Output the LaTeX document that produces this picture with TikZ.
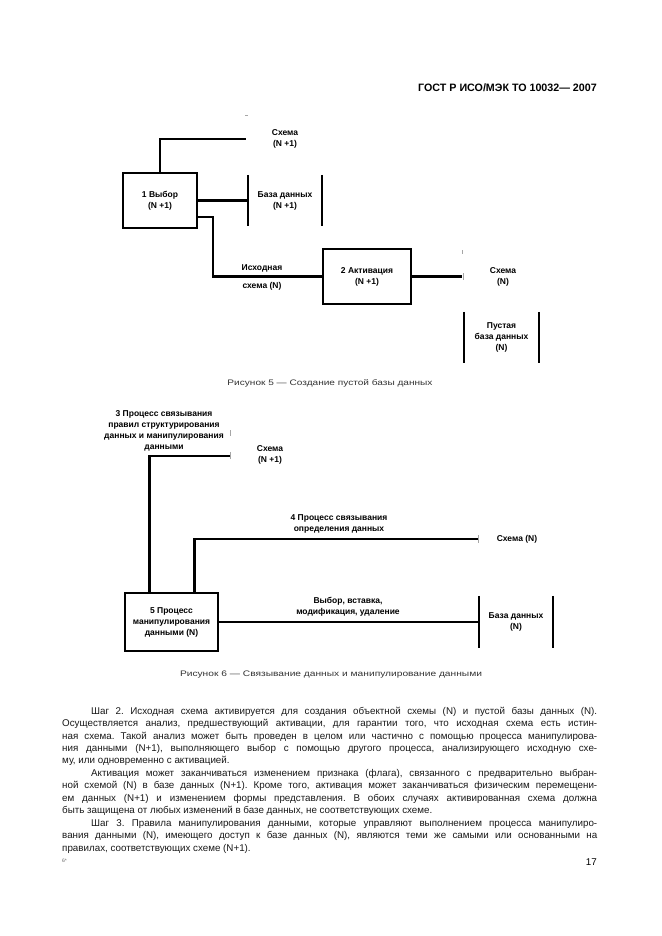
\documentclass[tikz,border=0pt]{standalone}
\usepackage{fontspec}
\setmainfont{Liberation Sans}
\usetikzlibrary{calc}
\frenchspacing
\begin{document}
\begin{tikzpicture}[x=1pt,y=-1pt,
  conn/.style={line width=2.5pt},
  bar/.style={line width=2.5pt},
  lbl/.style={font=\fontsize{8.5}{11}\selectfont\bfseries, align=center, inner sep=0pt},
  proc/.style={lbl, draw, line width=2.5pt},
  tickmark/.style={black!35, line width=0.7pt},
  capt/.style={font=\fontsize{8}{10}\selectfont, text=black!80, inner sep=0pt},
  body/.style={font=\fontsize{9.8}{12}\selectfont, text=black!90, anchor=base west, inner sep=0pt}]
\fill[white] (0,0) rectangle (661,936);
\useasboundingbox (0,0) rectangle (661,936);

% header
\node[anchor=east, inner sep=0pt, font=\fontsize{10.7}{12}\selectfont\bfseries] (hdr) at (597,88) {ГОСТ Р ИСО/МЭК ТО 10032— 2007};

% ---------- Figure 5 ----------
\node[proc, minimum width=74pt, minimum height=55pt] (b1) at (160,200.5) {1 Выбор\\(N +1)};
\node[lbl, minimum width=74pt, minimum height=51pt] (d1) at (285,200.5) {База данных\\(N +1)};
\draw[bar] (d1.north west) -- (d1.south west) (d1.north east) -- (d1.south east);
\coordinate (s1) at (246,139);
\draw[conn] (b1.north) |- (s1);
\node[lbl] (t1) at (285,138.5) {Схема\\(N +1)};
\draw[conn] (b1.east) -- (d1.west);

\node[proc, minimum width=88pt, minimum height=55pt] (b2) at (367,276.5) {2 Активация\\(N +1)};
\draw[conn] ($(b1.east)+(0,16.5)$) -| ($(b2.west)+(-109,0)$) -- (b2.west);
\node[lbl] (ish1) at (262,268) {Исходная};
\node[lbl] (ish2) at (262,286) {схема (N)};
\coordinate (s2) at (462,276.5);
\draw[conn] (b2.east) -- (s2);
\node[lbl] (t2) at (503,277) {Схема\\(N)};
\node[lbl, minimum width=75pt, minimum height=51pt] (d2) at (501.5,337.5) {Пустая\\база данных\\(N)};
\draw[bar] (d2.north west) -- (d2.south west) (d2.north east) -- (d2.south east);
\draw[tickmark] (245,115) -- (248,115);
\draw[tickmark] (462,250) -- (462,254);
\draw[tickmark] (463,273) -- (463,280);

\node[capt] (c5) at (330,383) {\resizebox{205pt}{\height}{Рисунок 5 — Создание пустой базы данных}};

% ---------- Figure 6 ----------
\node[lbl] (t3) at (164,431) {3 Процесс связывания\\правил структурирования\\данных и манипулирования\\данными};
\node[proc, minimum width=93pt, minimum height=58pt] (b5) at (171.5,622) {5 Процесс\\манипулирования\\данными (N)};
\coordinate (s3) at (230,456);
\draw[conn] ($(b5.north west)+(25.5,0)$) |- (s3);
\node[lbl] (t4) at (270,455) {Схема\\(N +1)};
\coordinate (s4) at (478,539);
\draw[conn] ($(b5.north west)+(70.5,0)$) |- (s4);
\node[lbl] (t5) at (339,524) {4 Процесс связывания\\определения данных};
\node[lbl] (t6) at (517,539) {Схема (N)};
\node[lbl, minimum width=74pt, minimum height=52pt] (d3) at (516,622) {База данных\\(N)};
\draw[bar] (d3.north west) -- (d3.south west) (d3.north east) -- (d3.south east);
\draw[conn] (b5.east) -- (d3.west);
\node[lbl] (t7) at (348,607) {Выбор, вставка,\\модификация, удаление};
\draw[tickmark] (230,430) -- (230,436);
\draw[tickmark] (230,452) -- (230,459);
\draw[tickmark] (478,535) -- (478,543);

\node[capt] (c6) at (331,675) {\resizebox{302pt}{\height}{Рисунок 6 — Связывание данных и манипулирование данными}};

% ---------- body text ----------
\node[body] (l1) at (91,714) {\makebox[506pt][s]{Шаг 2. Исходная схема активируется для создания объектной схемы (N) и пустой базы данных (N).}};
\node[body] (l2) at (62,726.5) {\makebox[535pt][s]{Осуществляется анализ, предшествующий активации, для гарантии того, что исходная схема есть истин-}};
\node[body] (l3) at (62,739) {\makebox[535pt][s]{ная схема. Такой анализ может быть проведен в целом или частично с помощью процесса манипулирова-}};
\node[body] (l4) at (62,751.4) {\makebox[535pt][s]{ния данными (N+1), выполняющего выбор с помощью другого процесса, анализирующего исходную схе-}};
\node[body] (l5) at (62,763.8) {му, или одновременно с активацией.};
\node[body] (l6) at (91,776.3) {\makebox[506pt][s]{Активация может заканчиваться изменением признака (флага), связанного с предварительно выбран-}};
\node[body] (l7) at (62,788.7) {\makebox[535pt][s]{ной схемой (N) в базе данных (N+1). Кроме того, активация может заканчиваться физическим перемещени-}};
\node[body] (l8) at (62,801.2) {\makebox[535pt][s]{ем данных (N+1) и изменением формы представления. В обоих случаях активированная схема должна}};
\node[body] (l9) at (62,813.6) {быть защищена от любых изменений в базе данных, не соответствующих схеме.};
\node[body] (l10) at (91,826.1) {\makebox[506pt][s]{Шаг 3. Правила манипулирования данными, которые управляют выполнением процесса манипулиро-}};
\node[body] (l11) at (62,838.5) {\makebox[535pt][s]{вания данными (N), имеющего доступ к базе данных (N), являются теми же самыми или основанными на}};
\node[body] (l12) at (62,851) {правилах, соответствующих схеме (N+1).};

% footer
\node[anchor=west, inner sep=0pt, font=\fontsize{5}{6}\selectfont, text=black!60] (f1) at (62,861) {6*};
\node[anchor=east, inner sep=0pt, font=\fontsize{9.8}{12}\selectfont] (f2) at (597,862) {17};
\end{tikzpicture}
\end{document}
